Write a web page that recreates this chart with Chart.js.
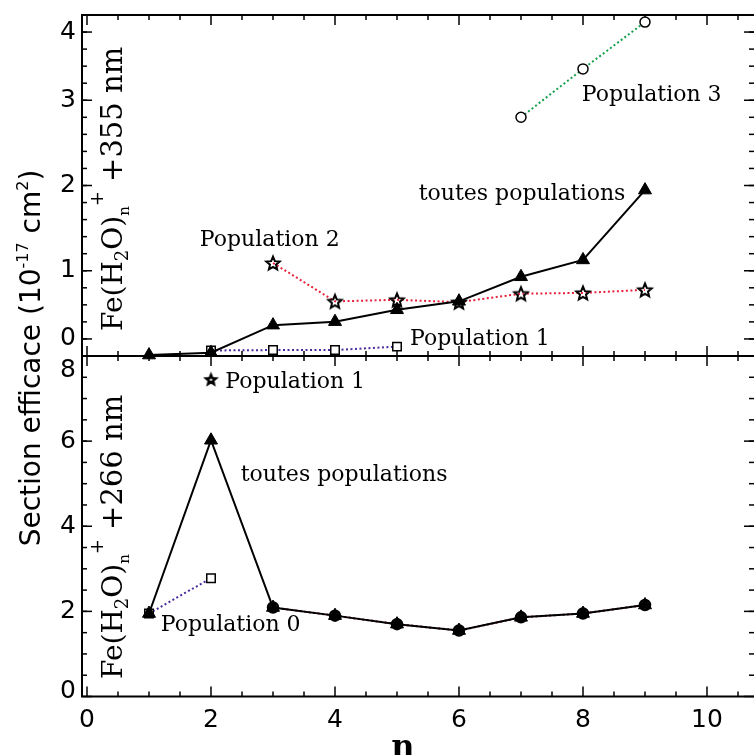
<!DOCTYPE html>
<html>
<head>
<meta charset="utf-8">
<script src="https://cdn.jsdelivr.net/npm/chart.js@4/dist/chart.umd.min.js"></script>
<style>
html, body { margin: 0; padding: 0; overflow: hidden; background: #fff; }
#wrap { position: relative; width: 754px; height: 755px; }
#wrap canvas { position: absolute; left: 0; top: 0; }
</style>
</head>
<body>
<div id="wrap">
  <canvas id="bottomPanel" width="754" height="755"></canvas>
  <canvas id="topPanel" width="754" height="755"></canvas>
</div>
<script>
"use strict";

// cluster size n
var nAll = [1, 2, 3, 4, 5, 6, 7, 8, 9];

// Fe(H2O)n+ + 355 nm  (10^-17 cm^2)
var top355Toutes = [-0.21, -0.18, 0.18, 0.225, 0.38, 0.49, 0.81, 1.03, 1.94];
var top355Pop1N = [2, 3, 4, 5];
var top355Pop1 = [-0.15, -0.145, -0.145, -0.10];
var top355Pop2N = [3, 4, 5, 6, 7, 8, 9];
var top355Pop2 = [0.99, 0.49, 0.51, 0.48, 0.59, 0.60, 0.64];
var top355Pop3N = [7, 8, 9];
var top355Pop3 = [2.89, 3.52, 4.13];

// Fe(H2O)n+ + 266 nm
var bot266Toutes = [1.95, 6.02, 2.09, 1.90, 1.70, 1.55, 1.86, 1.95, 2.15];
var bot266Pop0N = [1, 2];
var bot266Pop0 = [1.95, 2.78];
var bot266Pop1N = [2];
var bot266Pop1 = [7.45];
var bot266Pop2N = [3, 4, 5, 6, 7, 8, 9];
var bot266Pop2 = [2.09, 1.90, 1.70, 1.55, 1.86, 1.95, 2.15];

// tick labels
var xTickLabels = ["0", "2", "4", "6", "8", "10"];
var topTickLabels = ["0", "1", "2", "3", "4"];
var botTickLabels = ["0", "2", "4", "6", "8"];

var RED = "#e8203a";
var PURPLE = "#4a2a9c";
var GREEN = "#12a04c";
var SANS = "'DejaVu Sans', sans-serif";
var SERIF = "'DejaVu Serif', serif";

function pts(xs, ys) {
    return xs.map(function (x, i) { return { x: x, y: ys[i] }; });
}

// 5 branch star used as point style
function starImage(r, lw) {
    var size = Math.ceil(2 * r + lw + 4);
    var c = document.createElement("canvas");
    c.width = c.height = size;
    var ctx = c.getContext("2d");
    ctx.translate(size / 2, size / 2 + r * 0.1);
    ctx.beginPath();
    for (var i = 0; i < 10; i++) {
        var a = -Math.PI / 2 + i * Math.PI / 5;
        var rr = i % 2 ? r * 0.45 : r;
        ctx.lineTo(Math.cos(a) * rr, Math.sin(a) * rr);
    }
    ctx.closePath();
    ctx.lineWidth = lw;
    ctx.strokeStyle = "#000";
    ctx.stroke();
    return c;
}

// draws a run of text pieces (sub/superscripts) along a baseline
function drawRuns(ctx, runs, x, y, angle, align) {
    var total = 0;
    runs.forEach(function (r) {
        ctx.font = (r.weight || "normal") + " " + r.size + "px " + r.family;
        r.w = ctx.measureText(r.text).width;
        total += r.w;
    });
    ctx.save();
    ctx.translate(x, y);
    ctx.rotate(angle);
    ctx.textBaseline = "alphabetic";
    ctx.textAlign = "left";
    ctx.fillStyle = "#000";
    var pos = align === "center" ? -total / 2 : 0;
    runs.forEach(function (r) {
        ctx.font = (r.weight || "normal") + " " + r.size + "px " + r.family;
        ctx.fillText(r.text, pos, r.dy || 0);
        pos += r.w;
    });
    ctx.restore();
}

function line(ctx, x1, y1, x2, y2) {
    ctx.beginPath();
    ctx.moveTo(x1, y1);
    ctx.lineTo(x2, y2);
    ctx.stroke();
}

/**
 * Frame, inward ticks, tick labels and the texts of a panel.
 */
var panelFrame = {
    id: "panelFrame",
    beforeDatasetsDraw: function (chart, args, o) {
        var ctx = chart.ctx, a = chart.chartArea;
        var xs = chart.scales.x, ys = chart.scales.y;
        var v, k, px, py;
        ctx.save();
        ctx.strokeStyle = "#000";
        ctx.lineWidth = 1.5;
        for (k = 0; k * 0.5 <= xs.max; k++) {
            v = k * 0.5;
            px = xs.getPixelForValue(v);
            var len = k % 4 === 0 ? 10 : 5;
            line(ctx, px, a.bottom, px, a.bottom - len);
            line(ctx, px, a.top, px, a.top + len);
        }
        for (k = 1; ; k++) {
            v = ys.min + k * o.minorStep;
            if (v >= ys.max - 1e-6) break;
            py = ys.getPixelForValue(v);
            line(ctx, a.left, py, a.left + 5, py);
            line(ctx, a.right, py, a.right - 5, py);
        }
        ctx.fillStyle = "#000";
        ctx.font = "25px " + SANS;
        ctx.textAlign = "right";
        ctx.textBaseline = "middle";
        o.majors.forEach(function (m, i) {
            py = ys.getPixelForValue(m);
            line(ctx, a.left, py, a.left + 10, py);
            line(ctx, a.right, py, a.right - 10, py);
            var ly = Math.min(Math.max(py, a.top + 14), a.bottom - 5);
            ctx.fillText(o.labels[i], a.left - 6, ly);
        });
        // frame: the right edge lies just outside the picture
        ctx.lineWidth = 2;
        ctx.beginPath();
        ctx.moveTo(a.right + 2, a.top);
        ctx.lineTo(a.left, a.top);
        ctx.lineTo(a.left, a.bottom);
        ctx.lineTo(a.right + 2, a.bottom);
        ctx.stroke();

        if (o.xAxis) {
            ctx.textAlign = "center";
            ctx.textBaseline = "middle";
            xTickLabels.forEach(function (t) {
                ctx.fillText(t, xs.getPixelForValue(Number(t)), a.bottom + 24);
            });
            ctx.font = "bold 32px " + SERIF;
            ctx.textBaseline = "alphabetic";
            ctx.fillText("n", 403, 757);
            drawRuns(ctx, [
                { text: "Section efficace (10", size: 28, family: SANS },
                { text: "-17", size: 16, family: SANS, dy: -12 },
                { text: " cm", size: 28, family: SANS },
                { text: "2", size: 16, family: SANS, dy: -12 },
                { text: ")", size: 28, family: SANS }
            ], 40, 358, -Math.PI / 2, "center");
        }

        drawRuns(ctx, [
            { text: "Fe(H", size: 28, family: SERIF },
            { text: "2", size: 18, family: SERIF, dy: 6 },
            { text: "O)", size: 28, family: SERIF },
            { text: "n", size: 15, family: SERIF, dy: 7 },
            { text: "+", size: 18, family: SERIF, dy: -19 },
            { text: " +" + o.wave + " nm", size: 29, family: SERIF }
        ], 122, o.titleStart, -Math.PI / 2, "left");

        ctx.font = "22px " + SERIF;
        ctx.textAlign = "left";
        ctx.textBaseline = "middle";
        o.notes.forEach(function (n) {
            ctx.fillText(n.text, xs.getPixelForValue(n.x), ys.getPixelForValue(n.y));
        });
        ctx.restore();
    }
};

function panelOptions(padding, yMin, yMax, frame) {
    return {
        responsive: false,
        animation: false,
        devicePixelRatio: 1,
        events: [],
        layout: { padding: padding, autoPadding: false },
        elements: { line: { tension: 0, fill: false } },
        plugins: {
            legend: { display: false },
            tooltip: { enabled: false },
            panelFrame: frame
        },
        scales: {
            x: { type: "linear", display: false, min: -5 / 62, max: 667 / 62 },
            y: { type: "linear", display: false, min: yMin, max: yMax }
        }
    };
}

var bigStar = starImage(7, 2);
var smallStar = starImage(5, 2.5);

// label anchors in data units
var top355Notes = [
    { text: "Population 3", x: 7.98, y: 3.18 },
    { text: "toutes populations", x: 5.35, y: 1.88 },
    { text: "Population 2", x: 1.82, y: 1.28 },
    { text: "Population 1", x: 5.21, y: 0.0 }
];
var bot266Notes = [
    { text: "Population 1", x: 2.23, y: 7.38 },
    { text: "toutes populations", x: 2.48, y: 5.19 },
    { text: "Population 0", x: 1.19, y: 1.68 }
];

new Chart(document.getElementById("topPanel"), {
    type: "line",
    data: {
        datasets: [{
            data: pts(nAll, top355Toutes),
            borderColor: "#000", borderWidth: 2,
            pointStyle: "triangle", pointRadius: 7.5,
            pointBackgroundColor: "#000", pointBorderColor: "#000", pointBorderWidth: 1,
            clip: false, order: 1
        }, {
            data: pts(top355Pop2N, top355Pop2),
            borderColor: RED, borderWidth: 2, borderDash: [2, 2.5],
            pointStyle: bigStar, pointRadius: 7,
            clip: false, order: 2
        }, {
            data: pts(top355Pop1N, top355Pop1),
            borderColor: PURPLE, borderWidth: 2, borderDash: [2, 2.5],
            pointStyle: "rect", pointRadius: 6,
            pointBackgroundColor: "#fff", pointBorderColor: "#000", pointBorderWidth: 1.5,
            clip: false, order: 3
        }, {
            data: pts(top355Pop3N, top355Pop3),
            borderColor: GREEN, borderWidth: 2, borderDash: [2, 2.5],
            pointStyle: "circle", pointRadius: 5,
            pointBackgroundColor: "#fff", pointBorderColor: "#000", pointBorderWidth: 1.5,
            clip: false, order: 4
        }]
    },
    options: panelOptions({ left: 82, right: 0, top: 15, bottom: 399 }, -2 / 9, 38 / 9, {
        minorStep: 2 / 9,
        majors: [0, 8 / 9, 2, 28 / 9, 4],
        labels: topTickLabels,
        wave: "355",
        titleStart: 331,
        notes: top355Notes,
        xAxis: false
    }),
    plugins: [panelFrame]
});

new Chart(document.getElementById("bottomPanel"), {
    type: "line",
    data: {
        datasets: [{
            data: pts(nAll, bot266Toutes),
            borderColor: "#000", borderWidth: 2,
            pointStyle: "triangle", pointRadius: 7.5,
            pointBackgroundColor: "#000", pointBorderColor: "#000", pointBorderWidth: 1,
            clip: false, order: 1
        }, {
            data: pts(bot266Pop2N, bot266Pop2),
            borderColor: "#8a1020", borderWidth: 2, borderDash: [2, 2.5],
            pointStyle: "circle", pointRadius: 5,
            pointBackgroundColor: "#fff", pointBorderColor: "#000", pointBorderWidth: 2.5,
            clip: false, order: 2
        }, {
            data: pts(bot266Pop0N, bot266Pop0),
            borderColor: PURPLE, borderWidth: 2, borderDash: [2, 2.5],
            pointStyle: "rect", pointRadius: 6,
            pointBackgroundColor: "#fff", pointBorderColor: "#000", pointBorderWidth: 1.5,
            clip: false, order: 3
        }, {
            data: pts(bot266Pop1N, bot266Pop1),
            showLine: false,
            pointStyle: smallStar, pointRadius: 5,
            clip: false, order: 4
        }]
    },
    options: panelOptions({ left: 82, right: 0, top: 356, bottom: 58.5 }, 0, 8, {
        minorStep: 0.5,
        majors: [0, 2, 4, 6, 8],
        labels: botTickLabels,
        wave: "266",
        titleStart: 679,
        notes: bot266Notes,
        xAxis: true
    }),
    plugins: [panelFrame]
});
</script>
</body>
</html>
